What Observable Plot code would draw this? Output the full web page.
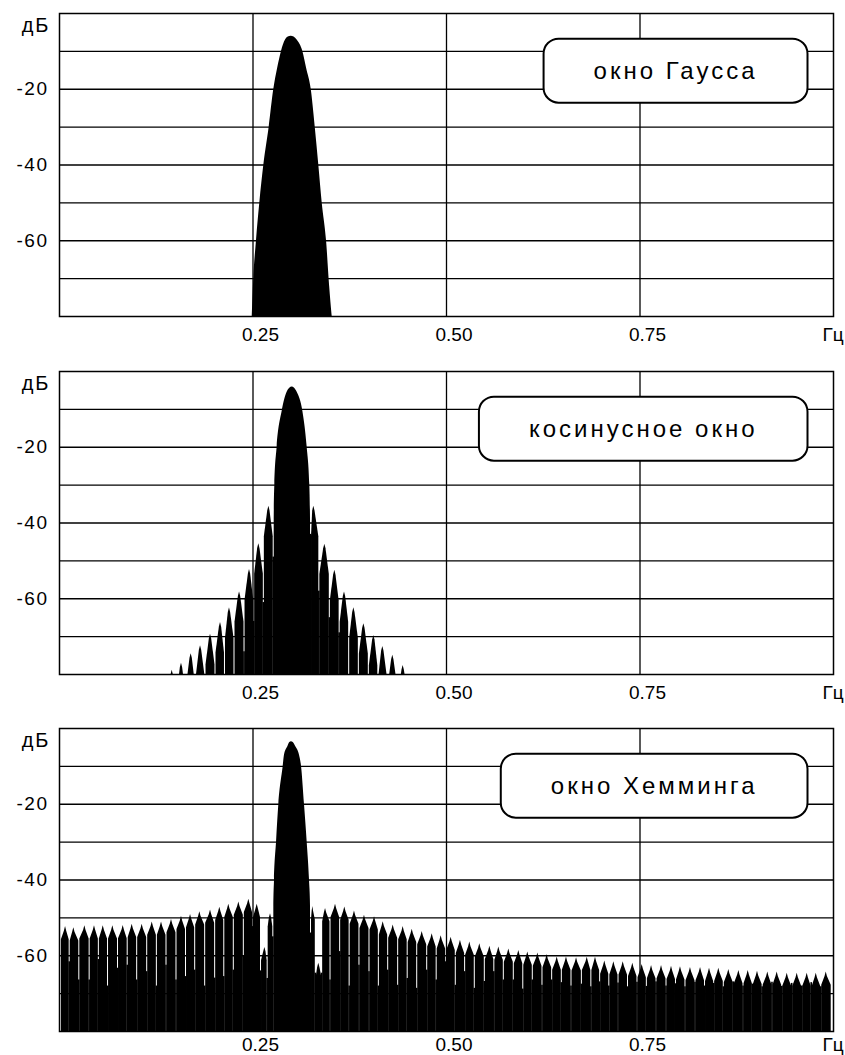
<!DOCTYPE html>
<html>
<head>
<meta charset="utf-8">
<script src="https://cdn.jsdelivr.net/npm/d3@7"></script>
<script src="https://cdn.jsdelivr.net/npm/@observablehq/plot@0.6"></script>
<style>
  body { margin: 0; background: #fff; }
  svg { display: block; }
</style>
</head>
<body>
<script>
// ---------- axes / labels ----------
const xTickValues = [0.25, 0.5, 0.75, 1];
const xTickLabels = ["0.25", "0.50", "0.75", "Гц"];
const xGridValues = [0.25, 0.5, 0.75];
const yTickValues = [-60, -40, -20];
const yGridValues = [-70, -60, -50, -40, -30, -20, -10];
const yUnit = "дБ";
const dbFloor = -80;
const dbTop = 0;
const panelTitles = ["окно Гаусса", "косинусное окно", "окно Хемминга"];

// ---------- panel 1: Gaussian window (outline of the spectrum, f in units of fs, dB) ----------
const gaussF  = [0.249, 0.251, 0.2545, 0.2588, 0.264, 0.2709, 0.2769, 0.2818, 0.2868, 0.292, 0.2955, 0.2993, 0.303, 0.307, 0.3144, 0.3193, 0.3252, 0.3304, 0.335, 0.3394, 0.345, 0.349, 0.3523];
const gaussDb = [-80, -70, -60, -50, -40, -30, -20, -14.5, -10, -7, -6.2, -6, -6.2, -7, -10, -14.5, -20, -30, -40, -50, -60, -72, -80];

// ---------- panel 2: cosine window ----------
const cosMainF  = [0.2774, 0.2774, 0.2782, 0.2812, 0.2877, 0.2941, 0.2975, 0.3006, 0.3037, 0.3071, 0.3144, 0.32, 0.3234, 0.3243, 0.3243];
const cosMainDb = [-80, -39, -30, -20, -10.5, -5.5, -4.4, -4.1, -4.4, -5.5, -10.5, -20, -30, -39, -80];
const cosLobeF  = [0.1456, 0.1576, 0.1701, 0.1822, 0.1951, 0.208, 0.2196, 0.2326, 0.2455, 0.2575, 0.2705,
                   0.3286, 0.3428, 0.3557, 0.3682, 0.3803, 0.3932, 0.4061, 0.4177, 0.4306, 0.444];
const cosLobeDb = [-78.9, -77, -74.5, -72.4, -69.4, -66.3, -62.4, -58.2, -52.3, -45.5, -35.6,
                   -35.6, -45.6, -52.5, -58.2, -62.4, -66.6, -69.7, -72.6, -74.9, -77.6];
// depth of the notch between neighbouring lobes (left to right, main lobe included)
const cosNullDb = [-80, -80, -80, -80, -80, -80, -80, -74, -66, -61, -49,
                   -43, -58, -65, -69, -80, -80, -80, -80, -80, -80];

// ---------- panel 3: Hamming window ----------
const hamMainF  = [0.2769, 0.2769, 0.2778, 0.2804, 0.2834, 0.289, 0.2907, 0.295, 0.2975, 0.2997, 0.302, 0.3053, 0.31, 0.3127, 0.3165, 0.32, 0.323, 0.3243, 0.3243];
const hamMainDb = [-80, -47, -40, -30, -20, -10, -7, -4.8, -3.7, -3.5, -3.7, -4.8, -7, -10, -20, -30, -40, -47, -80];
const hamLobeF  = [0.0078, 0.0185, 0.0327, 0.0452, 0.0565, 0.0689, 0.0823, 0.0939, 0.1068, 0.1198, 0.1318, 0.1447,
                   0.1576, 0.1693, 0.1813, 0.1951, 0.2071, 0.2187, 0.2317, 0.2446, 0.2554, 0.2653, 0.2726,
                   0.3273, 0.335, 0.3437, 0.3566, 0.3686, 0.3811, 0.394, 0.407, 0.4182, 0.4311, 0.444, 0.4557,
                   0.4686, 0.4815, 0.4931, 0.506, 0.518, 0.5301, 0.543, 0.556, 0.5676, 0.5805, 0.5934, 0.605,
                   0.618, 0.63, 0.643, 0.655, 0.668, 0.6818, 0.6925, 0.7045, 0.7162, 0.7283, 0.7407, 0.7528,
                   0.7649, 0.7778, 0.7907, 0.8023, 0.8152, 0.8282, 0.8398, 0.8518, 0.8647, 0.8777, 0.8898,
                   0.9018, 0.9151, 0.9272, 0.9402, 0.9531, 0.966, 0.9777, 0.9906];
const hamLobeDb = [-52.3, -52.6, -52.1, -52.1, -52.1, -52.1, -52, -51.7, -51.7, -51.1, -51.1, -50.4,
                   -49.6, -49.1, -48.4, -47.9, -47.2, -46.4, -45.8, -45.1, -46.4, -57.8, -48.9,
                   -47, -62, -47.5, -46.4, -47.1, -48.2, -49.3, -49.7, -51, -51.9, -52.3, -53,
                   -53.6, -54.2, -54.7, -55.1, -55.9, -56.4, -56.8, -57.5, -57.7, -58.2, -58.6, -59,
                   -59.3, -59.7, -60.3, -60.3, -60.5, -60.4, -60.4, -61.4, -61.6, -61.6, -62, -62.3,
                   -62.6, -62.6, -62.8, -62.9, -63.1, -63.1, -63.3, -63.3, -63.6, -63.9, -63.9,
                   -64.1, -64.3, -64.3, -64.6, -64.6, -64.6, -64.6, -64.3];
const hamNullDb = [-61.6, -66.4, -66.4, -61, -68, -63.3, -62.5, -66.4, -64.2, -68, -62.5, -66.4,
                   -65.5, -63.8, -68, -65.9, -65.5, -63.8, -60.2, -52.3, -64, -66,
                   -55, -54,
                   -64.6, -64.6, -66.4, -58.9, -68, -62.5, -64.2, -68, -63.8, -67.8, -66, -68.6,
                   -63.8, -66.4, -61.6, -67.8, -64.2, -68.6, -66.8, -64.2, -66.4, -66.4, -68.8, -66.4,
                   -67.8, -66.4, -67.1, -68, -67.5, -68.2, -66.9, -68, -67.2, -68.2, -67, -68.1,
                   -66.9, -68, -67.4, -68.2, -67, -68, -67.3, -68.2, -66.9, -68, -67.5, -68.2,
                   -67, -68.1, -67.3, -68, -67.1, -68.2];

// ---------- helpers: turn the read values into area polygons and notch fills ----------
const SLIT = 0.0013;   // white slit between lobes (~1 px)
function outline(id, fs, dbs) {
  return fs.map((f, i) => ({id, f, db: dbs[i]}));
}
function lobeSpectrum(mainF, mainDb, lobeF, lobeDb, nullDb, drop) {
  const items = lobeF.map((f, i) => ({type: "side", f, db: lobeDb[i]}));
  const iMax = d3.maxIndex(mainDb);
  items.push({type: "main", f: mainF[iMax], lo: mainF[0], hi: mainF[mainF.length - 1]});
  items.sort((a, b) => a.f - b.f);
  items.forEach((it, k) => {
    if (it.type === "main") { it.xl = it.lo; it.xr = it.hi; return; }
    const prev = items[k - 1], next = items[k + 1];
    if (!prev) it.xl = Math.max(0, it.f - (next.f - it.f) / 2);
    else if (prev.type === "main") it.xl = prev.hi + SLIT;
    else it.xl = (prev.f + it.f) / 2 + SLIT / 2;
    if (!next) it.xr = Math.min(1, it.f + (it.f - prev.f) / 2);
    else if (next.type === "main") it.xr = next.lo - SLIT;
    else it.xr = (it.f + next.f) / 2 - SLIT / 2;
  });
  const side = [];
  items.forEach((it, k) => {
    if (it.type === "main") return;
    const w = Math.min(0.0015, (it.f - it.xl) / 2, (it.xr - it.f) / 2);
    side.push(
      {id: k, f: it.xl, db: it.db - drop},
      {id: k, f: it.f - w, db: it.db - 1.2},
      {id: k, f: it.f, db: it.db},
      {id: k, f: it.f + w, db: it.db - 1.2},
      {id: k, f: it.xr, db: it.db - drop}
    );
  });
  const gaps = [];
  for (let k = 0; k < items.length - 1; k++) {
    gaps.push({x1: items[k].xr - 0.0004, x2: items[k + 1].xl + 0.0004, db: nullDb[k]});
  }
  return {main: outline("m", mainF, mainDb), side, gaps};
}

const BOX_PAD_X = 50;
const BOX_H = 64;

function panel({title, height, marginBottom, tickPadding, main, side, gaps}) {
  const marginTop = 13;
  const svg = Plot.plot({
    width: 845,
    height,
    marginTop,
    marginBottom,
    marginLeft: 59,
    marginRight: 12,
    style: {fontFamily: "'Liberation Sans', Arial, sans-serif", fontSize: "19px", color: "black", background: "white", overflow: "visible"},
    x: {domain: [0, 1]},
    y: {domain: [dbFloor, dbTop]},
    marks: [
      Plot.gridX(xGridValues, {stroke: "black", strokeOpacity: 1, strokeWidth: 1.3}),
      Plot.gridY(yGridValues, {stroke: "black", strokeOpacity: 1, strokeWidth: 1.3}),
      Plot.area(main, {x1: "f", y1: () => dbFloor, y2: "db", fill: "black", curve: "monotone-x", clip: true}),
      Plot.area(side, {x1: "f", y1: () => dbFloor, y2: "db", z: "id", fill: "black", clip: true}),
      Plot.rect(gaps, {x1: "x1", x2: "x2", y1: () => dbFloor, y2: "db", fill: "black"}),
      Plot.frame({stroke: "black", strokeWidth: 1.5}),
      Plot.axisX({ticks: xTickValues, tickFormat: d => xTickLabels[xTickValues.indexOf(d)], tickSize: 0, tickPadding, textAnchor: "start", dx: -11, label: null}),
      Plot.axisY({ticks: yTickValues, tickFormat: d => String(d), tickSize: 0, tickPadding: 11, label: null}),
      Plot.text([yUnit], {text: d => d, frameAnchor: "top-left", dx: -9, dy: 12, textAnchor: "end", lineAnchor: "middle", fontSize: 20}),
      Plot.text([title], {text: d => d, frameAnchor: "top-right", dx: -(26 + BOX_PAD_X), dy: 58, textAnchor: "end", lineAnchor: "middle", fontSize: 24})
    ]
  });
  document.body.append(svg);
  const yLabels = svg.querySelector('g[aria-label="y-axis tick label"]');
  if (yLabels) yLabels.style.letterSpacing = "1.5px";
  const textGroups = svg.querySelectorAll('g[aria-label="text"]');
  const unitText = textGroups[0].querySelector("text");
  unitText.style.letterSpacing = "2px";
  const g = textGroups[textGroups.length - 1];
  const t = g.querySelector("text");
  t.style.letterSpacing = "3px";
  const bb = t.getBBox();
  const cy = bb.y + bb.height / 2;
  const rect = document.createElementNS("http://www.w3.org/2000/svg", "rect");
  rect.setAttribute("x", bb.x - BOX_PAD_X);
  rect.setAttribute("y", cy - BOX_H / 2);
  rect.setAttribute("width", bb.width + 2 * BOX_PAD_X);
  rect.setAttribute("height", BOX_H);
  rect.setAttribute("rx", 15);
  rect.setAttribute("fill", "white");
  rect.setAttribute("stroke", "black");
  rect.setAttribute("stroke-width", 2);
  const tr = t.getAttribute("transform");
  if (tr) rect.setAttribute("transform", tr);
  g.insertBefore(rect, t);
}

const gauss = {main: outline("g", gaussF, gaussDb), side: [], gaps: []};
const cos = lobeSpectrum(cosMainF, cosMainDb, cosLobeF, cosLobeDb, cosNullDb, 8);
const ham = lobeSpectrum(hamMainF, hamMainDb, hamLobeF, hamLobeDb, hamNullDb, 3.5);

panel({title: panelTitles[0], height: 358, marginBottom: 42, tickPadding: 11, ...gauss});
panel({title: panelTitles[1], height: 357, marginBottom: 41, tickPadding: 11, ...cos});
panel({title: panelTitles[2], height: 340, marginBottom: 24, tickPadding: 6, ...ham});
</script>
</body>
</html>
